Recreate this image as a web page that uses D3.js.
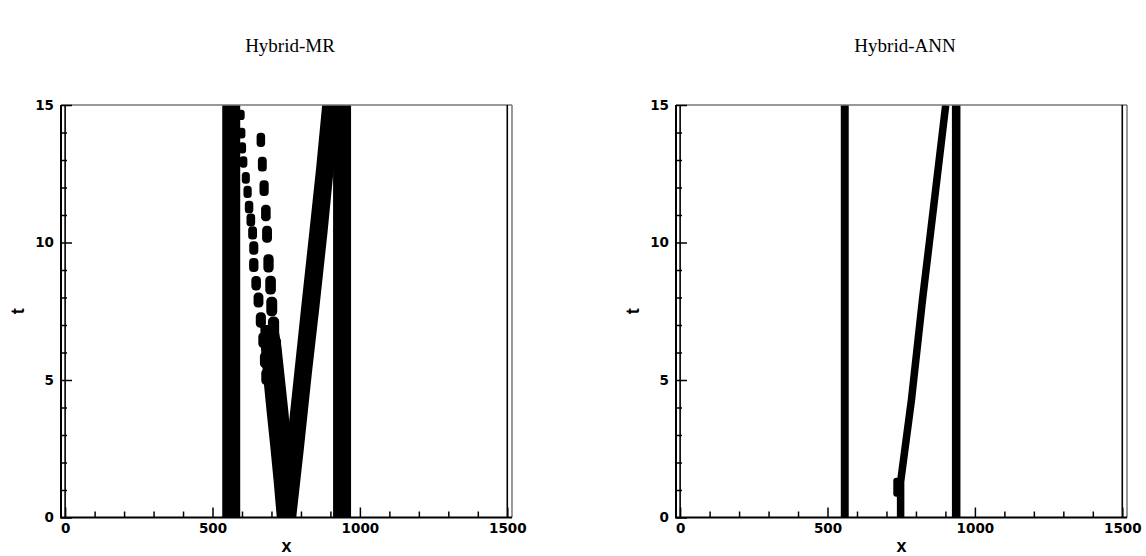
<!DOCTYPE html>
<html>
<head>
<meta charset="utf-8">
<script src="https://cdn.jsdelivr.net/npm/d3@7"></script>
<style>
  body { margin: 0; background: #fff; }
  .tick text { font-family: "DejaVu Sans", sans-serif; font-weight: bold; font-size: 13.5px; fill: #000; }
</style>
</head>
<body>
<script>
const W = 1146, H = 556;

// ticks
const xTicks = [0, 500, 1000, 1500];
const xMinorTicks = [100, 200, 300, 400, 600, 700, 800, 900, 1100, 1200, 1300, 1400];
const tTicks = [0, 5, 10, 15];
const tMinorTicks = [1, 2, 3, 4, 6, 7, 8, 9, 11, 12, 13, 14];

// Hybrid-MR: troubled cells
const mrBands = [[533, 594], [909, 970]];          // x ranges over all t
const mrLeftArm = [                                 // [t, xLeft, xRight]
  [0, 718, 776], [1.36, 707, 772], [2.57, 696, 766], [3.8, 684, 758],
  [5.0, 673, 746], [6.2, 664, 734], [7.0, 662, 722]
];
const mrRightArm = [                                // [t, xLeft, xRight]
  [0, 722, 784], [2.5, 750, 810], [5.24, 777, 837], [7.67, 801, 863],
  [10.35, 828, 890], [12.76, 852, 912], [15, 872, 930]
];
const mrOuterBlobs = [                              // [x, t]
  [684, 5.12], [679, 5.73], [673, 6.45], [664, 7.18], [656, 7.91], [648, 8.52],
  [640, 9.18], [640, 9.8], [636, 10.35], [630, 10.82], [624, 11.29], [619, 11.84],
  [613, 12.35], [605, 12.93], [601, 13.44], [599, 13.98], [597, 14.64]
];
const mrInnerBlobs = [                              // [x, t]
  [664, 13.73], [669, 12.85], [675, 11.98], [681, 11.07], [685, 10.3],
  [690, 9.24], [697, 8.45], [701, 7.67], [707, 6.94], [713, 6.2]
];

// Hybrid-ANN: troubled cells
const annBands = [[545, 572], [922, 951]];
const annTrack = [[748, 0], [748, 1.3], [785, 4.3], [822, 7.9], [860, 11.3], [901, 15]];
const annBlobs = [[735, 1.1]];

const svg = d3.select("body").append("svg")
  .attr("width", W).attr("height", H);

const y = d3.scaleLinear().domain([0, 15]).range([517.5, 105]);

function drawPanel(left, title, draw) {
  const x = d3.scaleLinear().domain([-14, 1516]).range([left, left + 451]);
  const g = svg.append("g");
  const cx = left + 451 / 2;

  g.append("text")
    .attr("x", cx + 3.5).attr("y", 52)
    .attr("text-anchor", "middle")
    .style("font-family", "'Liberation Serif', serif")
    .style("font-size", "19px")
    .text(title);

  const clipId = "clip" + left;
  g.append("clipPath").attr("id", clipId)
    .append("rect")
    .attr("x", x(0)).attr("y", y(15))
    .attr("width", x(1500) - x(0)).attr("height", y(0) - y(15));

  const data = g.append("g").attr("clip-path", `url(#${clipId})`);
  draw(data, x);

  // frame
  g.append("line").attr("x1", x.range()[0]).attr("x2", x.range()[1])
    .attr("y1", y(15)).attr("y2", y(15)).attr("stroke", "#777").attr("stroke-width", 1.5);
  g.append("line").attr("x1", x.range()[1]).attr("x2", x.range()[1])
    .attr("y1", y(15)).attr("y2", y(0)).attr("stroke", "#777").attr("stroke-width", 1.5);
  [0, 1500].forEach(v => {
    g.append("line").attr("x1", x(v)).attr("x2", x(v))
      .attr("y1", y(15)).attr("y2", y(0)).attr("stroke", "#000").attr("stroke-width", 1.6);
  });

  // x axis
  const xMinor = g.append("g").attr("transform", `translate(0,${y(0)})`)
    .call(d3.axisBottom(x).tickValues(xMinorTicks).tickSize(-6).tickFormat(""));
  xMinor.select(".domain").remove();
  const xAx = g.append("g").attr("transform", `translate(0,${y(0)})`)
    .call(d3.axisBottom(x).tickValues(xTicks).tickSize(-10).tickPadding(6).tickFormat(d3.format("d")));
  xAx.select(".domain").remove();

  // y axis
  const yMinor = g.append("g").attr("transform", `translate(${x.range()[0]},0)`)
    .call(d3.axisLeft(y).tickValues(tMinorTicks).tickSize(-6).tickFormat(""));
  yMinor.select(".domain").remove();
  const yAx = g.append("g").attr("transform", `translate(${x.range()[0]},0)`)
    .call(d3.axisLeft(y).tickValues(tTicks).tickSize(-11).tickPadding(7).tickFormat(d3.format("d")));
  yAx.select(".domain").remove();
  g.selectAll(".tick line").attr("stroke-width", 1.5);

  g.append("line").attr("x1", x.range()[0] - 1).attr("x2", x.range()[1])
    .attr("y1", y(0)).attr("y2", y(0)).attr("stroke", "#000").attr("stroke-width", 2);
  g.append("line").attr("x1", x.range()[0]).attr("x2", x.range()[0])
    .attr("y1", y(15)).attr("y2", y(0)).attr("stroke", "#000").attr("stroke-width", 2);

  // axis titles
  g.append("text")
    .attr("x", cx).attr("y", 552)
    .attr("text-anchor", "middle")
    .style("font-family", "'Liberation Sans', Arial, sans-serif")
    .style("font-weight", "bold").style("font-size", "18px")
    .text("x");
  g.append("text")
    .attr("transform", `translate(${left - 37},${(y(0) + y(15)) / 2}) rotate(-90)`)
    .attr("text-anchor", "middle")
    .style("font-family", "'Liberation Sans', Arial, sans-serif")
    .style("font-weight", "bold").style("font-size", "18px")
    .text("t");
}

function drawBands(g, x, bands) {
  g.selectAll(null).data(bands).enter().append("rect")
    .attr("x", d => x(d[0])).attr("width", d => x(d[1]) - x(d[0]))
    .attr("y", y(15)).attr("height", y(0) - y(15))
    .attr("fill", "#000");
}

// blobs grow toward early times: size given at t=15 and t=5
function drawBlobs(g, x, blobs, top, bottom) {
  const s = d3.scaleLinear().domain([15, 5]).range([0, 1]).clamp(true);
  const bw = d => top[0] + (bottom[0] - top[0]) * s(d[1]);
  const bh = d => top[1] + (bottom[1] - top[1]) * s(d[1]);
  g.selectAll(null).data(blobs).enter().append("rect")
    .attr("x", d => x(d[0]) - bw(d) / 2).attr("y", d => y(d[1]) - bh(d) / 2)
    .attr("width", bw).attr("height", bh)
    .attr("rx", d => bw(d) / 2.3).attr("ry", d => bw(d) / 2.3)
    .attr("fill", "#000");
}

drawPanel(61, "Hybrid-MR", (g, x) => {
  drawBands(g, x, mrBands);
  const area = d3.area().y(d => y(d[0])).x0(d => x(d[1])).x1(d => x(d[2]));
  g.append("path").datum(mrLeftArm).attr("d", area).attr("fill", "#000");
  g.append("path").datum(mrRightArm).attr("d", area).attr("fill", "#000");
  drawBlobs(g, x, mrOuterBlobs, [7, 10], [11, 17]);
  drawBlobs(g, x, mrInnerBlobs, [8, 13], [12, 22]);
});

drawPanel(676, "Hybrid-ANN", (g, x) => {
  drawBands(g, x, annBands);
  const line = d3.line().x(d => x(d[0])).y(d => y(d[1]));
  g.append("path").datum(annTrack).attr("d", line)
    .attr("fill", "none").attr("stroke", "#000").attr("stroke-width", 7.5);
  drawBlobs(g, x, annBlobs, [7, 19], [7, 19]);
});
</script>
</body>
</html>
